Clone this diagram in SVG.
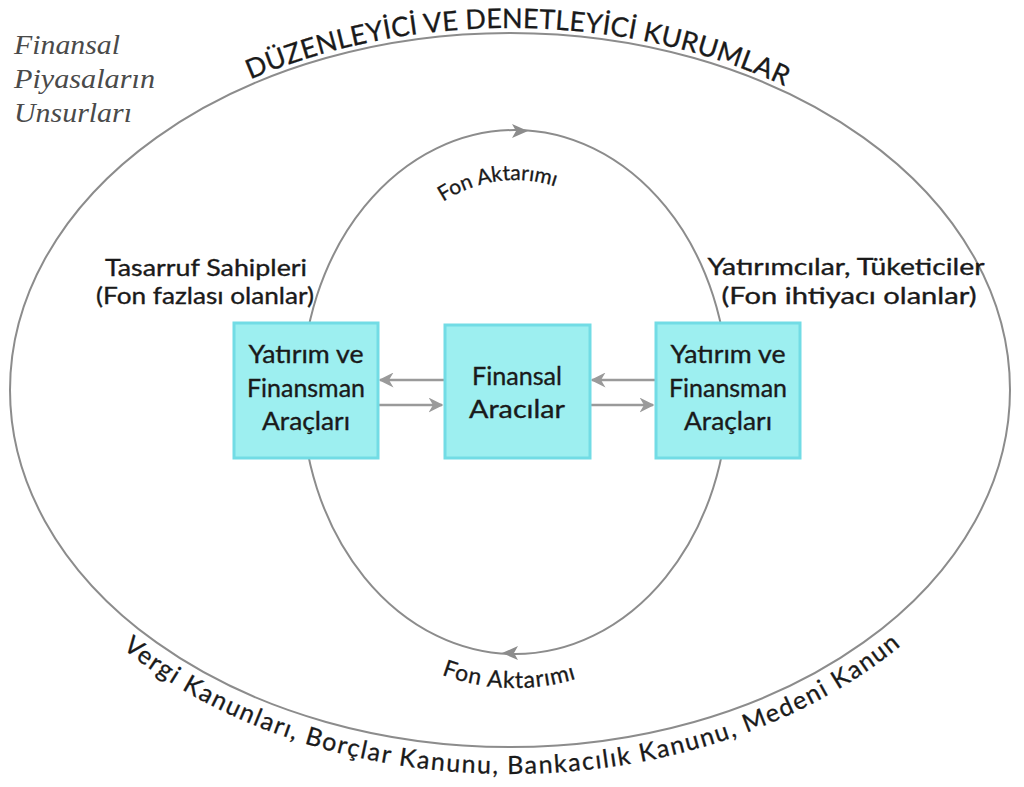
<svg xmlns="http://www.w3.org/2000/svg" width="1024" height="787" viewBox="0 0 1024 787">
<style>
.ell{fill:none;stroke:#8c8c8c;stroke-width:2}
.box{fill:#9DEFF0;stroke:#72DCE5;stroke-width:3}
.t{font-family:Lato,"Open Sans","DejaVu Sans",sans-serif;fill:#1a1a1a;font-size:25px;text-anchor:middle;stroke:#1a1a1a;stroke-width:0.35}
.lb{font-size:23px}
.arc{font-family:Lato,"Open Sans","DejaVu Sans",sans-serif;fill:#1a1a1a;stroke:#1a1a1a;stroke-width:0.3}
.conn{stroke:#9a9a9a;stroke-width:2.5;fill:none}
.it{font-family:"Liberation Serif","DejaVu Serif",serif;font-style:italic;fill:#4a4a4a;font-size:28px}
</style>
<defs>
<marker id="ah" viewBox="0 0 10 10" refX="9" refY="5" markerWidth="6" markerHeight="6" orient="auto" markerUnits="strokeWidth">
<path d="M0,0 L10,5 L0,10 L3,5 z" fill="#9a9a9a"/>
</marker>
<path id="pTop" d="M 5 390 A 505 362 0 0 1 1015 390"/>
<path id="pBot" d="M -14 390 A 524 384 0 0 0 1034 390"/>
<path id="pInTop" d="M 352 392 A 163 212 0 0 1 678 392"/>
<path id="pInBot" d="M 268 392 A 247 296 0 0 0 762 392"/>
</defs>
<rect width="1024" height="787" fill="#ffffff"/>
<g id="title">
<text class="it" x="14" y="54" textLength="106" lengthAdjust="spacingAndGlyphs">Finansal</text>
<text class="it" x="14" y="88" textLength="141" lengthAdjust="spacingAndGlyphs">Piyasaların</text>
<text class="it" x="14" y="122" textLength="118" lengthAdjust="spacingAndGlyphs">Unsurları</text>
</g>
<g id="outer">
<ellipse class="ell" cx="510" cy="390" rx="500" ry="357"/>
<text class="arc" font-size="27" letter-spacing="0.2"><textPath href="#pTop" startOffset="50.6%" text-anchor="middle">DÜZENLEYİCİ VE DENETLEYİCİ KURUMLAR</textPath></text>
<text class="arc" font-size="25" letter-spacing="1.6"><textPath href="#pBot" startOffset="50.2%" text-anchor="middle">Vergi Kanunları, Borçlar Kanunu, Bankacılık Kanunu, Medeni Kanun</textPath></text>
</g>
<g id="inner">
<ellipse class="ell" cx="515" cy="392" rx="213" ry="262"/>
<path d="M 512 124 L 528 131 L 512 138 L 516 131 z" fill="#8c8c8c"/>
<path d="M 518 646 L 502 653 L 518 660 L 514 653 z" fill="#8c8c8c"/>
<text class="arc" font-size="21"><textPath href="#pInTop" startOffset="47%" text-anchor="middle">Fon Aktarımı</textPath></text>
<text class="arc" font-size="23" letter-spacing="0.8"><textPath href="#pInBot" startOffset="49.3%" text-anchor="middle">Fon Aktarımı</textPath></text>
</g>
<g id="labels">
<text class="t lb" x="206" y="276" textLength="202" lengthAdjust="spacingAndGlyphs">Tasarruf Sahipleri</text>
<text class="t lb" x="205" y="304" textLength="218" lengthAdjust="spacingAndGlyphs">(Fon fazlası olanlar)</text>
<text class="t lb" x="846" y="275" textLength="277" lengthAdjust="spacingAndGlyphs">Yatırımcılar, Tüketiciler</text>
<text class="t lb" x="849" y="304" textLength="255" lengthAdjust="spacingAndGlyphs">(Fon ihtiyacı olanlar)</text>
</g>
<g id="connectors">
<line class="conn" x1="444" y1="380" x2="380" y2="380" marker-end="url(#ah)"/>
<line class="conn" x1="378" y1="405" x2="442" y2="405" marker-end="url(#ah)"/>
<line class="conn" x1="655" y1="380" x2="592" y2="380" marker-end="url(#ah)"/>
<line class="conn" x1="590" y1="405" x2="653" y2="405" marker-end="url(#ah)"/>
</g>
<g id="leftBox">
<rect class="box" x="234" y="323" width="144" height="135"/>
<text class="t" x="306" y="363" textLength="115" lengthAdjust="spacingAndGlyphs">Yatırım ve</text>
<text class="t" x="306" y="397" textLength="118" lengthAdjust="spacingAndGlyphs">Finansman</text>
<text class="t" x="306" y="430" textLength="88" lengthAdjust="spacingAndGlyphs">Araçları</text>
</g>
<g id="centerBox">
<rect class="box" x="445" y="325" width="145" height="133"/>
<text class="t" x="517" y="385" textLength="90" lengthAdjust="spacingAndGlyphs">Finansal</text>
<text class="t" x="517" y="418" textLength="96" lengthAdjust="spacingAndGlyphs">Aracılar</text>
</g>
<g id="rightBox">
<rect class="box" x="656" y="323" width="144" height="135"/>
<text class="t" x="728" y="363" textLength="115" lengthAdjust="spacingAndGlyphs">Yatırım ve</text>
<text class="t" x="728" y="397" textLength="118" lengthAdjust="spacingAndGlyphs">Finansman</text>
<text class="t" x="728" y="430" textLength="88" lengthAdjust="spacingAndGlyphs">Araçları</text>
</g>
</svg>
